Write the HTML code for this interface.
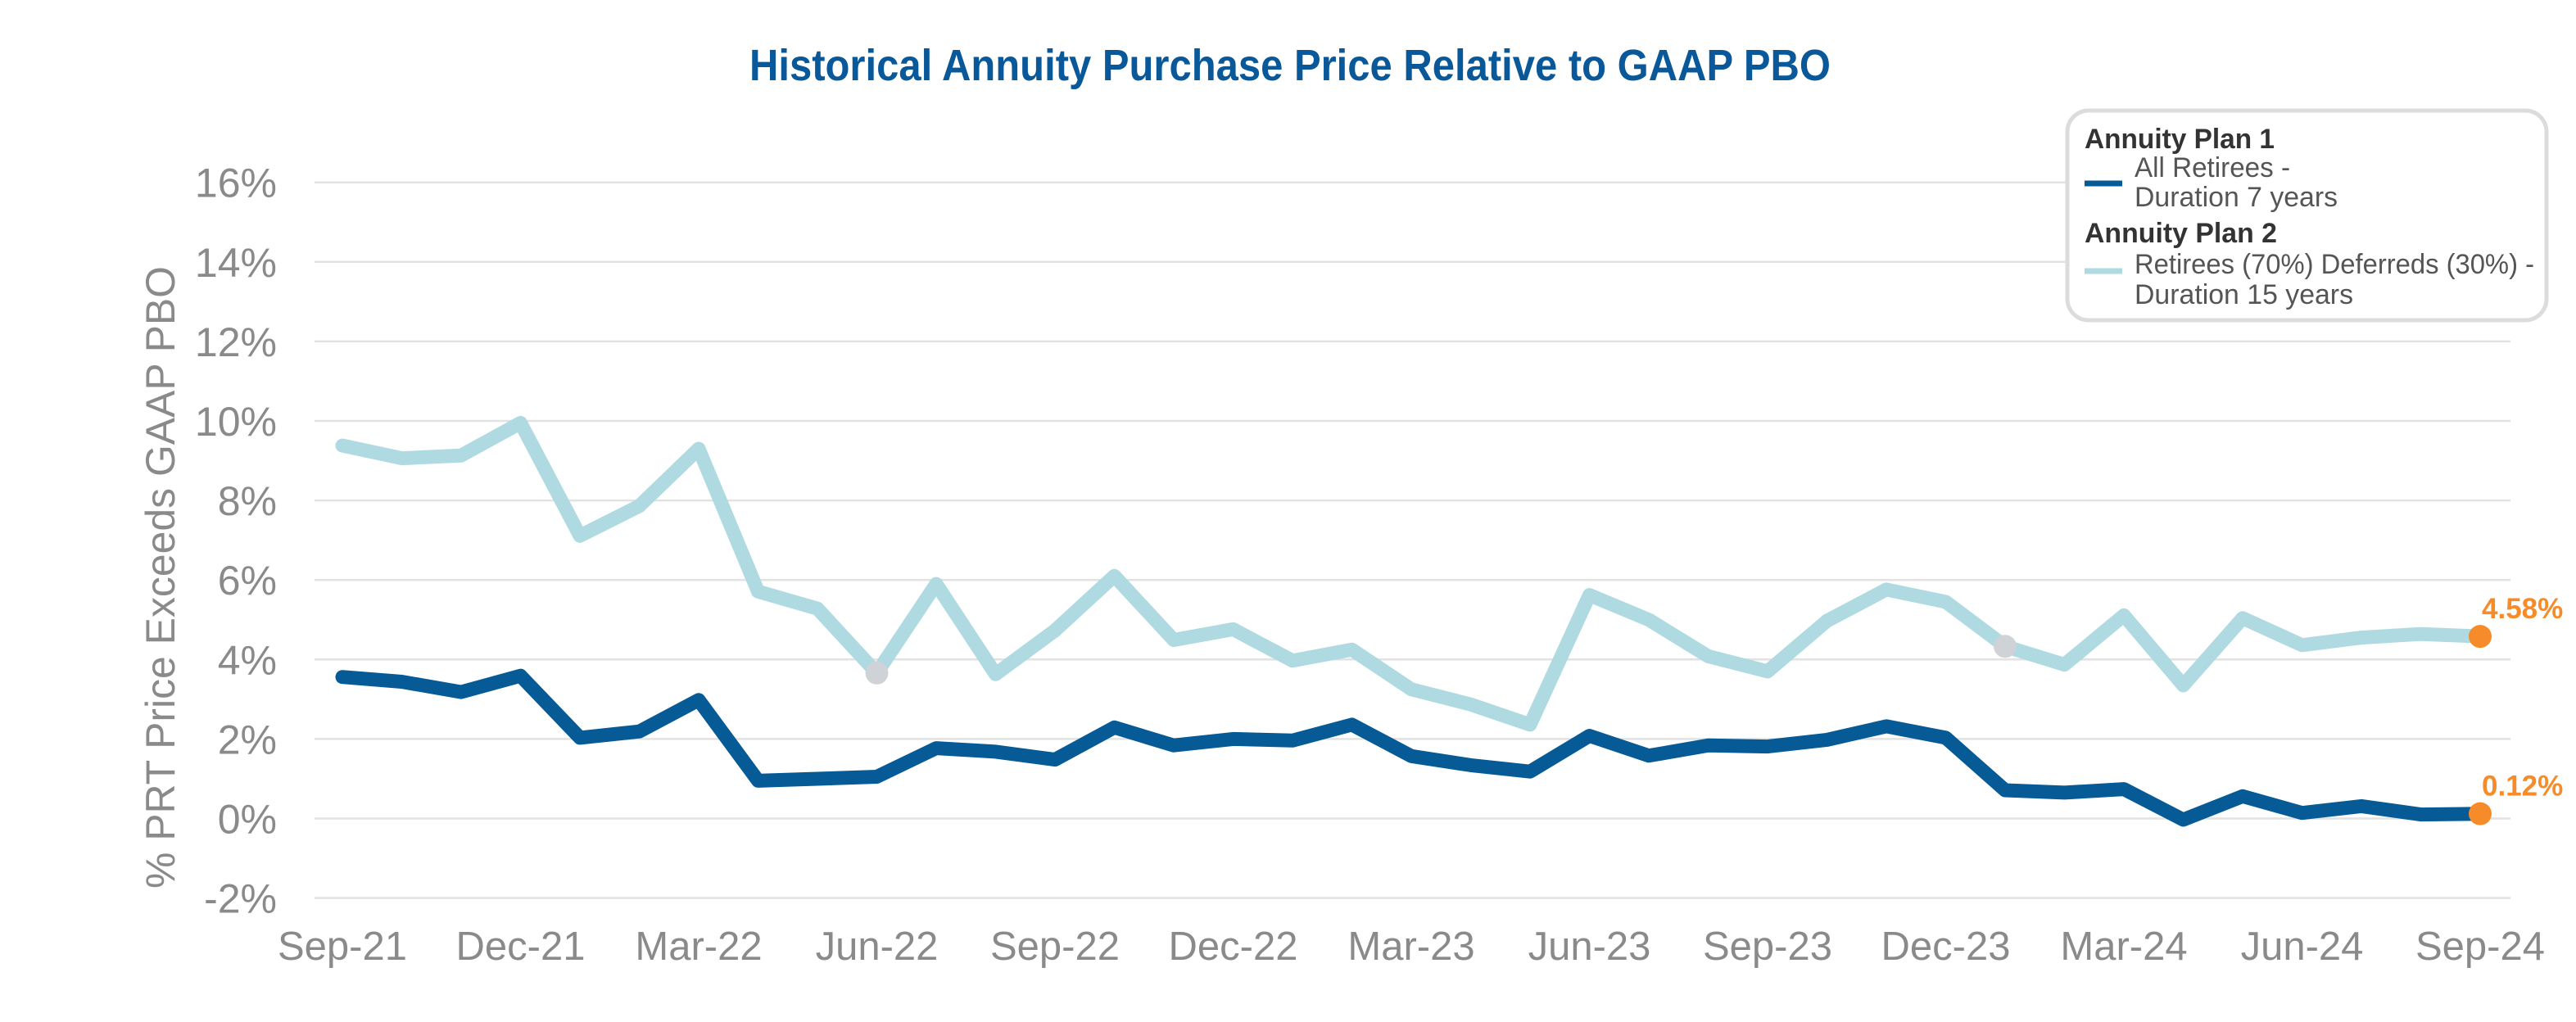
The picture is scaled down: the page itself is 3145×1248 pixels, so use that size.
<!DOCTYPE html>
<html><head><meta charset="utf-8"><style>
html,body{margin:0;padding:0;background:#fff;}
svg{display:block;font-family:"Liberation Sans",sans-serif;}
</style></head><body>
<svg id="chart" width="3145" height="1248" viewBox="0 0 3145 1248" xmlns="http://www.w3.org/2000/svg">
<text x="1575" y="98" text-anchor="middle" font-size="54" font-weight="bold" fill="#08589a" textLength="1320" lengthAdjust="spacingAndGlyphs">Historical Annuity Purchase Price Relative to GAAP PBO</text>
<g id="grid"></g>
<g id="ylabels"></g>
<g id="xlabels"></g>
<text transform="translate(213,705) rotate(-90)" text-anchor="middle" font-size="50" fill="#8a8a8a" textLength="760" lengthAdjust="spacingAndGlyphs">% PRT Price Exceeds GAAP PBO</text>
<g id="series"></g>
<g>
<rect x="2524" y="135" width="585" height="256" rx="26" fill="#fff" stroke="#dcdcdc" stroke-width="5"/>
<text x="2545" y="181" font-size="34" font-weight="bold" fill="#333" textLength="232" lengthAdjust="spacingAndGlyphs">Annuity Plan 1</text>
<line x1="2545" y1="224" x2="2591" y2="224" stroke="#065a96" stroke-width="7"/>
<text x="2606" y="216" font-size="34" fill="#555" textLength="190" lengthAdjust="spacingAndGlyphs">All Retirees -</text>
<text x="2606" y="252" font-size="34" fill="#555" textLength="248" lengthAdjust="spacingAndGlyphs">Duration 7 years</text>
<text x="2545" y="296" font-size="34" font-weight="bold" fill="#333" textLength="235" lengthAdjust="spacingAndGlyphs">Annuity Plan 2</text>
<line x1="2545" y1="331" x2="2591" y2="331" stroke="#b0dae1" stroke-width="7"/>
<text x="2606" y="334" font-size="34" fill="#555" textLength="488" lengthAdjust="spacingAndGlyphs">Retirees (70%) Deferreds (30%) -</text>
<text x="2606" y="371" font-size="34" fill="#555" textLength="267" lengthAdjust="spacingAndGlyphs">Duration 15 years</text>
</g>
</svg>
<script>
const months = ["Sep-21","Oct-21","Nov-21","Dec-21","Jan-22","Feb-22","Mar-22","Apr-22","May-22","Jun-22","Jul-22","Aug-22","Sep-22","Oct-22","Nov-22","Dec-22","Jan-23","Feb-23","Mar-23","Apr-23","May-23","Jun-23","Jul-23","Aug-23","Sep-23","Oct-23","Nov-23","Dec-23","Jan-24","Feb-24","Mar-24","Apr-24","May-24","Jun-24","Jul-24","Aug-24","Sep-24"];
const plan1 = [3.56,3.44,3.18,3.59,2.03,2.19,2.98,0.95,1.00,1.05,1.77,1.68,1.48,2.29,1.84,2.00,1.96,2.36,1.57,1.34,1.18,2.08,1.58,1.84,1.81,1.98,2.32,2.03,0.71,0.65,0.74,-0.03,0.56,0.14,0.31,0.10,0.12];
const plan2 = [9.38,9.06,9.13,9.95,7.11,7.86,9.30,5.71,5.28,3.66,5.90,3.63,4.73,6.10,4.49,4.76,3.97,4.25,3.25,2.87,2.36,5.62,5.00,4.08,3.70,4.97,5.76,5.45,4.33,3.87,5.11,3.35,5.04,4.36,4.55,4.64,4.58];
const yTicks = [-2,0,2,4,6,8,10,12,14,16];
const xTickIdx = [0,3,6,9,12,15,18,21,24,27,30,33,36];
const highlightIdx = [9,28];

const NS="http://www.w3.org/2000/svg";
const X0=418, DX=(3028-418)/36;
const xs = i => X0 + DX*i;
const ys = v => 999.5 - v*48.55;
function mk(tag, attrs, parent){const e=document.createElementNS(NS,tag);for(const k in attrs)e.setAttribute(k,attrs[k]);parent.appendChild(e);return e;}
const grid=document.getElementById('grid'), yl=document.getElementById('ylabels'), xl=document.getElementById('xlabels'), ser=document.getElementById('series');
yTicks.forEach(t=>{
  const l=mk('line',{x1:384,x2:3065,y1:ys(t),y2:ys(t),stroke:'#e2e2e2','stroke-width':2.5},grid);
  
  
  const tx=mk('text',{x:338,y:ys(t)+18,'text-anchor':'end','font-size':50,fill:'#8a8a8a'},yl);
  tx.textContent=t+'%';
  
  
});
xTickIdx.forEach(i=>{
  const tx=mk('text',{x:xs(i),y:1172,'text-anchor':'middle','font-size':49,fill:'#8a8a8a'},xl);
  tx.textContent=months[i];
  
  
});
function line(vals,color,w,name){
  const d=vals.map((v,i)=>(i?'L':'M')+xs(i).toFixed(1)+' '+ys(v).toFixed(1)).join(' ');
  const p=mk('path',{d:d,fill:'none',stroke:color,'stroke-width':w,'stroke-linejoin':'round','stroke-linecap':'round'},ser);
  
  
}
line(plan2,'#b0dae1',17,'line-plan-2');
line(plan1,'#065a96',17,'line-plan-1');
highlightIdx.forEach(i=>{
  const c=mk('circle',{cx:xs(i),cy:ys(plan2[i]),r:14,fill:'#cfd2d7'},ser);
  
  
});
[[plan2,'end-marker-plan-2','end-label-plan-2'],[plan1,'end-marker-plan-1','end-label-plan-1']].forEach(([vals,mn,ln])=>{
  const n=vals.length-1;
  const c=mk('circle',{cx:xs(n),cy:ys(vals[n]),r:14,fill:'#f68b2a'},ser);
  
  
  const t=mk('text',{x:xs(n)+2,y:ys(vals[n])-22,'font-size':35,'font-weight':'bold',fill:'#f68b2a'},ser);
  t.textContent=vals[n].toFixed(2)+'%';
  
  
});
</script>
</body></html>
